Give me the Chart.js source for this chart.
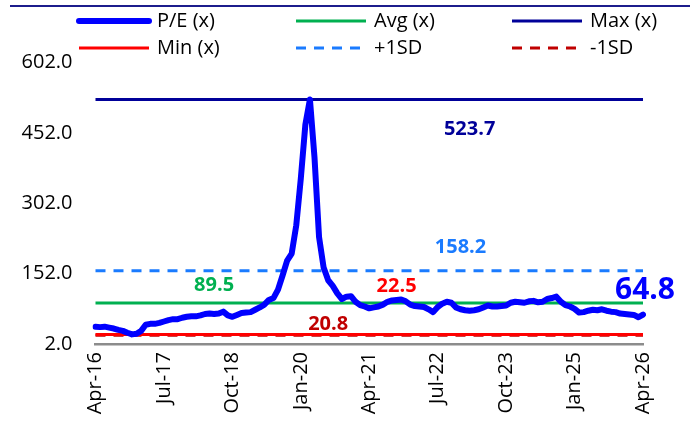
<!DOCTYPE html>
<html>
<head>
<meta charset="utf-8">
<script src="https://cdn.jsdelivr.net/npm/chart.js@4.4.1/dist/chart.umd.min.js"></script>
<style>
  html, body { margin: 0; padding: 0; background: #fff; }
  #wrap { position: relative; width: 694px; height: 430px; }
  #rule { position: absolute; left: 10px; top: 5px; width: 680px; height: 2px; background: #1c1c8c; }
  canvas { position: absolute; left: 0; top: 0; }
</style>
</head>
<body>
<div id="wrap">
  <canvas id="c" width="694" height="430"></canvas>
  <div id="rule"></div>
</div>
<script>
// ---- data ----
const startYear = 2016, startMonth = 3; // Apr-16
const monthNames = ['Jan','Feb','Mar','Apr','May','Jun','Jul','Aug','Sep','Oct','Nov','Dec'];
const peValues = [
  39, 38, 39, 37, 35, 32, 30, 26, 22.5, 24, 30, 43, 45, 45, 47, 50, 53, 55, 55, 58,
  60, 61, 61, 63, 66, 67, 66, 67, 71, 63, 60, 64, 68, 69, 70, 75, 80, 86, 96, 100,
  118, 148, 180, 195, 255, 355, 470, 523.7, 400, 230, 165, 138, 126, 110, 98, 103, 104, 92, 85, 82,
  78, 80, 82, 86, 92, 95, 96, 97, 93, 86, 83, 82, 81, 76, 70, 81, 88, 92, 90, 80,
  76, 74, 73, 74, 76, 80, 84, 82, 82, 83, 84, 90, 92, 91, 90, 93, 94, 91, 92, 98,
  100, 103, 92, 85, 82, 77, 69, 70, 73, 75, 74, 76, 73, 71, 70, 67, 66, 65, 64, 59,
  64.8
];
const avgValue = 89.5;
const maxValue = 523.7;
const minValue = 22.5;
const plusSDValue = 158.2;
const minusSDValue = 20.8;
const yTicks = [2.0, 152.0, 302.0, 452.0, 602.0];
const seriesNames = ['P/E (x)', 'Avg (x)', 'Max (x)', 'Min (x)', '+1SD', '-1SD'];

const categories = peValues.map((_, i) => {
  const m = startMonth + i;
  const y = startYear + Math.floor(m / 12);
  return monthNames[m % 12] + '-' + String(y % 100).padStart(2, '0');
});
const flat = v => peValues.map(() => v);

const FONT = "'Open Sans', 'Noto Sans', sans-serif";

const colors = {
  pe: '#0000FF', avg: '#00B050', max: '#000099', min: '#FF0000', psd: '#1A7BFF', msd: '#C00000'
};

const datasets = [
  { label: seriesNames[5], data: flat(minusSDValue), borderColor: colors.msd, borderWidth: 3, borderDash: [10, 8], order: 6 },
  { label: seriesNames[3], data: flat(minValue), borderColor: colors.min, borderWidth: 3, order: 5 },
  { label: seriesNames[4], data: flat(plusSDValue), borderColor: colors.psd, borderWidth: 3, borderDash: [10, 8], order: 4 },
  { label: seriesNames[1], data: flat(avgValue), borderColor: colors.avg, borderWidth: 3, order: 3 },
  { label: seriesNames[2], data: flat(maxValue), borderColor: colors.max, borderWidth: 3, order: 2 },
  { label: seriesNames[0], data: peValues, borderColor: colors.pe, borderWidth: 6, borderCapStyle: 'round', borderJoinStyle: 'round', order: 1 }
];
datasets.forEach(d => { d.pointRadius = 0; d.fill = false; d.tension = 0; });

// custom legend (3 columns x 2 rows)
const legendPlugin = {
  id: 'gridLegend',
  afterDraw(chart) {
    const ctx = chart.ctx;
    const order = [seriesNames[0], seriesNames[1], seriesNames[2], seriesNames[3], seriesNames[4], seriesNames[5]];
    const colX = [79, 296, 512];
    const rowY = [21, 48];
    ctx.save();
    ctx.font = '20px ' + FONT;
    ctx.textBaseline = 'middle';
    ctx.fillStyle = '#000';
    order.forEach((name, k) => {
      const ds = chart.data.datasets.find(d => d.label === name);
      const x = colX[k % 3], y = rowY[Math.floor(k / 3)];
      ctx.beginPath();
      ctx.strokeStyle = ds.borderColor;
      ctx.lineWidth = name === seriesNames[0] ? 6 : 3;
      ctx.lineCap = name === seriesNames[0] ? 'round' : 'butt';
      ctx.setLineDash(ds.borderDash || []);
      ctx.moveTo(x, y); ctx.lineTo(x + 70, y); ctx.stroke();
      ctx.setLineDash([]);
      ctx.fillText(name, x + 78, y);
    });
    ctx.restore();
  }
};

// value annotations
const annotPlugin = {
  id: 'annots',
  afterDatasetsDraw(chart) {
    const xs = chart.scales.x, ys = chart.scales.y, ctx = chart.ctx;
    const last = peValues.length - 1;
    const items = [
      { t: maxValue.toFixed(1), i: 82, v: maxValue, dy: 30, c: colors.max, f: 'bold 20px ' + FONT },
      { t: plusSDValue.toFixed(1), i: 80, v: plusSDValue, dy: -23, c: colors.psd, f: 'bold 20px ' + FONT },
      { t: avgValue.toFixed(1), i: 26, v: avgValue, dy: -18, c: colors.avg, f: 'bold 20px ' + FONT },
      { t: minValue.toFixed(1), i: 66, v: minValue, dy: -48, c: colors.min, f: 'bold 20px ' + FONT },
      { t: minusSDValue.toFixed(1), i: 51, v: minusSDValue, dy: -11, c: colors.msd, f: 'bold 20px ' + FONT },
      { t: peValues[last].toFixed(1), i: last, v: peValues[last], dy: -24, dx: 2, c: colors.pe, f: 'bold 30px ' + FONT }
    ];
    ctx.save();
    ctx.textAlign = 'center';
    ctx.textBaseline = 'middle';
    items.forEach(it => {
      ctx.font = it.f;
      ctx.fillStyle = it.c;
      ctx.fillText(it.t, xs.getPixelForValue(it.i) + (it.dx || 0), ys.getPixelForValue(it.v) + it.dy);
    });
    ctx.restore();
  }
};

new Chart(document.getElementById('c'), {
  type: 'line',
  data: { labels: categories, datasets },
  options: {
    responsive: false,
    animation: false,
    layout: { padding: { top: 62.7, right: 51, left: 0, bottom: 0 } },
    plugins: { legend: { display: false }, tooltip: { enabled: false } },
    scales: {
      x: {
        type: 'category',
        offset: false,
        grid: { display: false, drawTicks: false },
        border: { display: true, color: '#8c8c8c', width: 2.5 },
        afterFit(s) { s.height = 430 - 344; },
        ticks: {
          autoSkip: false, maxRotation: 90, minRotation: 90, padding: 8,
          color: '#000', font: { family: FONT, size: 20 },
          callback(v, i) { return i % 15 === 0 ? categories[i] : null; }
        }
      },
      y: {
        min: yTicks[0], max: yTicks[yTicks.length - 1],
        afterBuildTicks(s) { s.ticks = yTicks.map(v => ({ value: v })); },
        afterFit(s) { s.width = 95.5; },
        grid: { display: false, drawTicks: false },
        border: { display: false },
        ticks: {
          padding: 23, color: '#000', font: { family: FONT, size: 20 },
          callback(v) { return Number(v).toFixed(1); }
        }
      }
    }
  },
  plugins: [legendPlugin, annotPlugin]
});
</script>
</body>
</html>
